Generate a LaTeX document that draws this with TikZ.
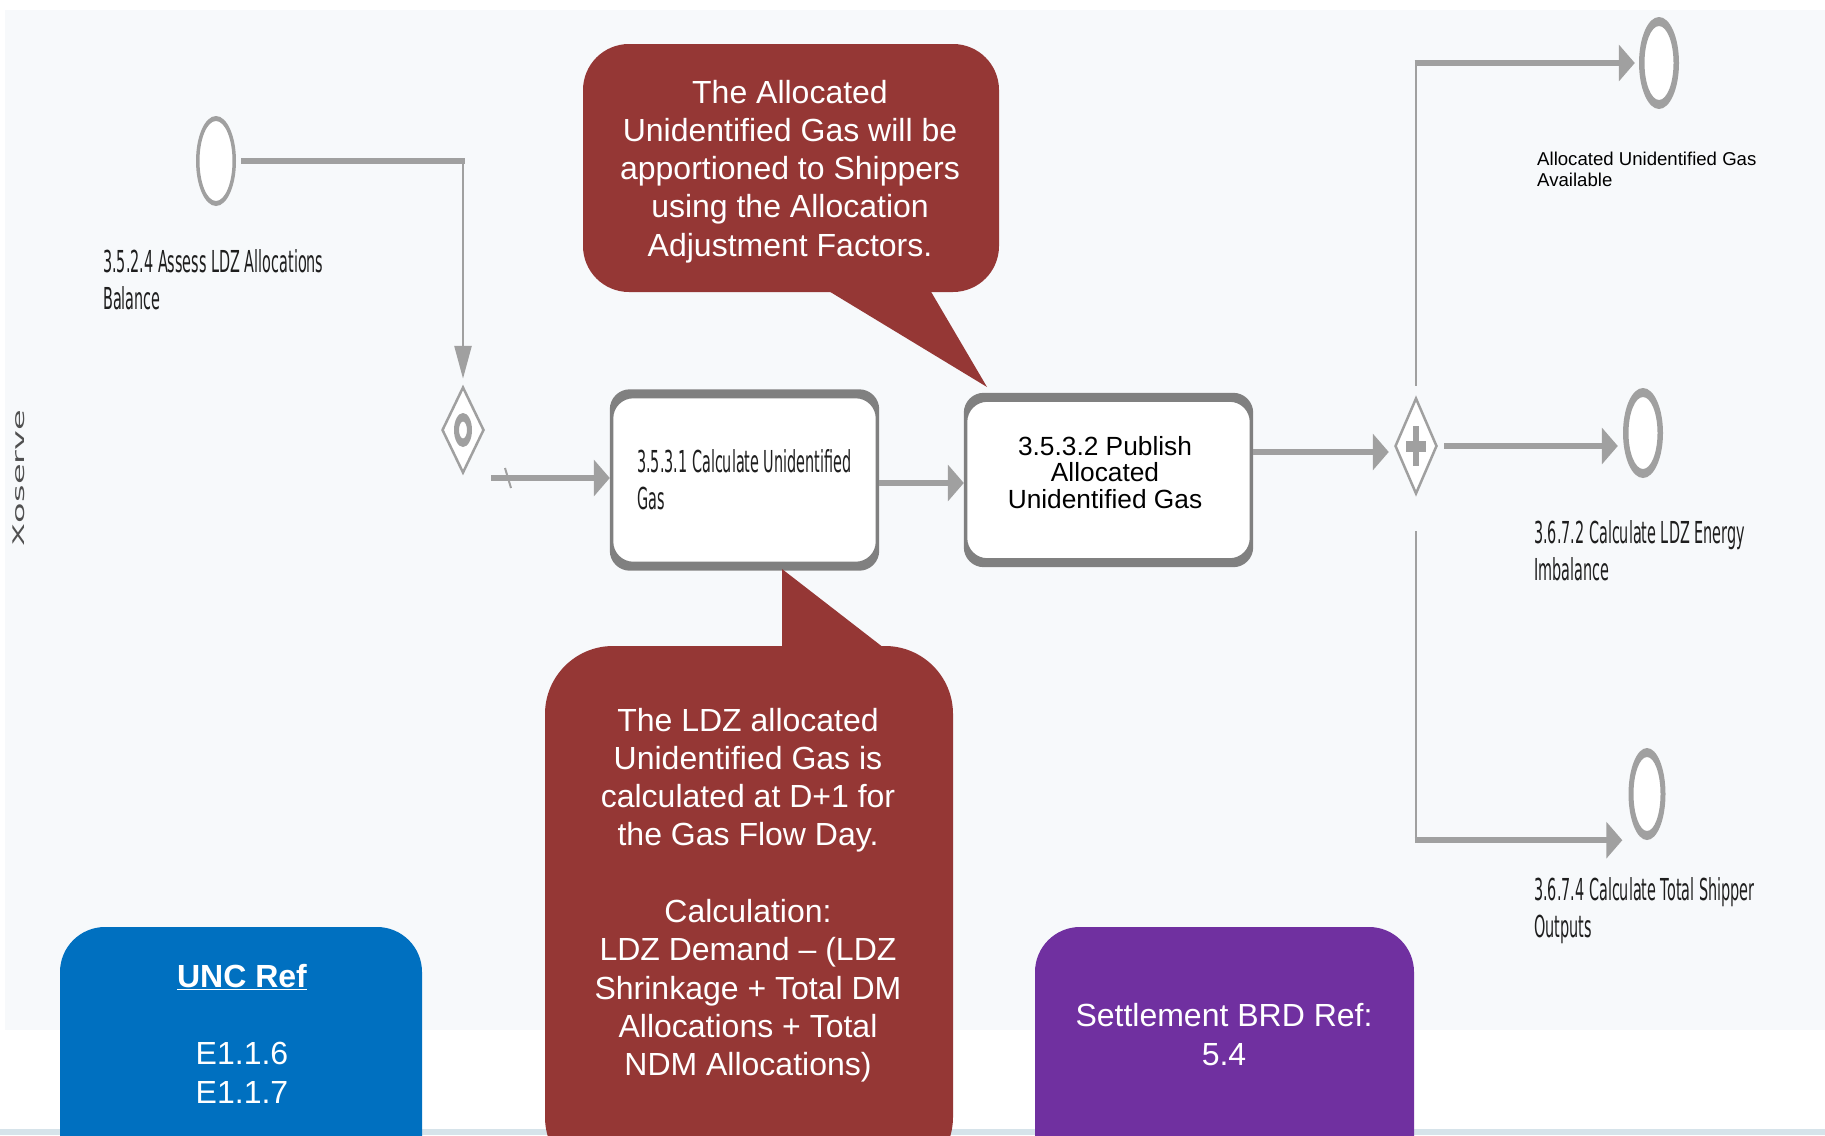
\documentclass[tikz,border=0pt]{standalone}
\usepackage{graphicx}
\usepackage{fontspec}
\setmainfont{Liberation Sans}
\newfontfamily\djv{DejaVu Sans}
\usetikzlibrary{arrows.meta,shapes.geometric,calc}
\definecolor{bg}{HTML}{F7F9FB}
\definecolor{strip}{HTML}{D6E3EA}
\definecolor{calloutred}{HTML}{953735}
\definecolor{uncblue}{HTML}{0070C0}
\definecolor{brdpurple}{HTML}{7030A0}
\definecolor{flowgray}{HTML}{A0A0A0}
\definecolor{taskgray}{HTML}{808080}
\definecolor{labelgray}{HTML}{1E1E1E}
\definecolor{xsgray}{HTML}{505050}
\newcommand\bpmnlabel[1]{\scalebox{1}[2.1]{\djv\fontsize{14.4}{18}\selectfont\begin{tabular}[t]{@{}l@{}}#1\end{tabular}}}
\newcommand\clines[3]{{\fontsize{#1}{#2}\selectfont\begin{tabular}[t]{@{}c@{}}#3\end{tabular}}}
\begin{document}
\begin{tikzpicture}[x=1pt,y=-1pt,
  hl/.style={draw=flowgray,line width=6pt},
  vl/.style={draw=flowgray,line width=2.7pt},
  harr/.style={-{Triangle[length=16pt,width=36pt]}},
  varr/.style={-{Triangle[length=33pt,width=17pt]}},
  evt/.style={ellipse,minimum width=40pt,inner sep=0pt,fill=white},
  gw/.style={diamond,minimum width=42pt,inner sep=0pt,fill=white,draw=flowgray,line width=2.5pt},
  task/.style={rectangle,rounded corners=20pt,fill=white,inner sep=0pt},
  lbl/.style={inner sep=0pt,anchor=base west,text=labelgray},
  wtxt/.style={inner sep=0pt,anchor=base,text=white},
  panel/.style={rectangle,inner sep=0pt},
]
\path[use as bounding box] (0,0) rectangle (1825,1135);
\clip (0,0) rectangle (1825,1135);
\fill[white] (0,0) rectangle (1825,1135);
\fill[bg] (5,10) rectangle (1825,1030);
\fill[strip] (0,1129) rectangle (1825,1135);

% Xoserve lane label
\node[rotate=90,inner sep=0pt,text=xsgray] (lane) at (19,478) {\djv\fontsize{16}{16}\selectfont\scalebox{2.1}[1]{Xoserve}};

% nodes
\node[evt,minimum height=90pt] (s1) at (216,161) {};
\node[gw,minimum height=86pt] (g1) at (463,430) {};
\node[task,minimum width=269pt,minimum height=181pt] (t1) at (744.5,480) {};
\node[task,minimum width=289pt,minimum height=174pt] (t2) at (1108.5,480) {};
\node[gw,minimum height=96pt] (g2) at (1416,446) {};
\node[evt,minimum height=92pt] (e1) at (1659,63) {};
\node[evt,minimum height=90pt] (e2) at (1643,433) {};
\node[evt,minimum height=92pt,minimum width=37pt] (e3) at (1647,794) {};

% event rings
\fill[flowgray,even odd rule] (s1.center) ellipse [x radius=20pt,y radius=45pt] (s1.center) ellipse [x radius=16.5pt,y radius=40pt];
\fill[flowgray,even odd rule] (e1.center) ellipse [x radius=20pt,y radius=46pt] (e1.center) ellipse [x radius=14.5pt,y radius=37pt];
\fill[flowgray,even odd rule] (e2.center) ellipse [x radius=20pt,y radius=45pt] (e2.center) ellipse [x radius=14.5pt,y radius=36pt];
\fill[flowgray,even odd rule] (e3.center) ellipse [x radius=18.5pt,y radius=46pt] (e3.center) ellipse [x radius=13.5pt,y radius=37pt];

% gateway markers
\fill[flowgray,even odd rule] (g1.center) ellipse [x radius=9pt,y radius=17pt] (g1.center) ellipse [x radius=4pt,y radius=8.5pt];
\draw[flowgray,line width=11pt] ([xshift=-10pt]g2.center) -- ([xshift=10pt]g2.center);
\draw[flowgray,line width=6pt] ([yshift=20pt]g2.center) -- ([yshift=-20pt]g2.center);

% task borders
\fill[taskgray,even odd rule,rounded corners=20pt] (t1.south west) rectangle (t1.north east) ([xshift=3.5pt,yshift=-9pt]t1.north west) rectangle ([xshift=-3.5pt,yshift=9pt]t1.south east);
\fill[taskgray,even odd rule,rounded corners=20pt] (t2.south west) rectangle (t2.north east) ([xshift=3.5pt,yshift=-9pt]t2.north west) rectangle ([xshift=-3.5pt,yshift=9pt]t2.south east);

% flows
\draw[hl,shorten <=5pt] (s1.east) -- ($(s1.east -| g1.north)+(1.5,0)$);
\draw[vl,varr,shorten >=7pt] (s1.east -| g1.north) -- (g1.north);
\coordinate (g1out) at ($(g1.center)+(28,48)$);
\draw[hl,harr] (g1out) -- (g1out -| t1.west);
\draw[flowgray,line width=2pt] ($(g1out)+(14,-10)$) -- ($(g1out)+(20,10)$);
\draw[hl,harr] ([yshift=-3pt]t1.east) -- ([yshift=-3pt]t2.west);
\draw[hl,harr,shorten >=5pt] ($(t2.east |- g2.west)+(0,6)$) -- ($(g2.west)+(0,6)$);
\draw[vl,shorten <=11pt] (g2.north) -- ($(g2.north |- e1.west)+(0,-3)$);
\draw[hl,harr,shorten >=4pt] ($(g2.north |- e1.west)+(-1.3,0)$) -- (e1.west);
\draw[hl,harr,shorten <=6pt,shorten >=5pt] (g2.east) -- (g2.east -| e2.west);
\draw[vl,shorten <=36pt] (g2.south) -- ($(g2.south |- e3.south)+(0,3)$);
\draw[hl,harr,shorten >=6pt] ($(g2.south |- e3.south)+(-1.3,0)$) -- (e3.west |- e3.south);

% BPMN labels
\node[lbl] (s1lab) at (103,272) {\bpmnlabel{3.5.2.4 Assess LDZ Allocations\\Balance}};
\node[lbl] (t1lab) at (637,472) {\bpmnlabel{3.5.3.1 Calculate Unidentified\\Gas}};
\node[inner sep=0pt,anchor=base,text=black] (t2lab) at (1105,455) {\clines{26.3}{26}{3.5.3.2 Publish\\Allocated\\Unidentified Gas}};
\node[lbl,text=black] (e1lab) at (1537,165) {{\fontsize{18.6}{21}\selectfont\begin{tabular}[t]{@{}l@{}}Allocated Unidentified Gas\\Available\end{tabular}}};
\node[lbl] (e2lab) at (1534,543) {\bpmnlabel{3.6.7.2 Calculate LDZ Energy\\Imbalance}};
\node[lbl] (e3lab) at (1534,900) {\bpmnlabel{3.6.7.4 Calculate Total Shipper\\Outputs}};

% callout 1
\node[panel,fill=calloutred,rounded corners=46pt,minimum width=416pt,minimum height=248pt] (c1) at (791,168) {};
\fill[calloutred] (827,290) -- (930,290) -- (987,387) -- cycle;
\node[wtxt] (c1txt) at (790,103) {\clines{32}{38.3}{The Allocated\\Unidentified Gas will be\\apportioned to Shippers\\using the Allocation\\Adjustment Factors.}};

% callout 2
\node[panel,fill=calloutred,rounded corners=68pt,minimum width=408pt,minimum height=539pt] (c2) at (749,915.5) {};
\fill[calloutred] (782,569) -- (782,648) -- (884,648) -- cycle;
\node[wtxt] (c2txt) at (748,731) {\clines{32}{38.3}{The LDZ allocated\\Unidentified Gas is\\calculated at D+1 for\\the Gas Flow Day.\\ \\Calculation:\\LDZ Demand -- (LDZ\\Shrinkage + Total DM\\Allocations + Total\\NDM Allocations)}};

% reference boxes
\node[panel,fill=uncblue,rounded corners=45pt,minimum width=362pt,minimum height=258pt] (unc) at (241,1056) {};
\node[wtxt] (unctxt) at (242,987.5) {\clines{32}{38.5}{\textbf{\underline{UNC Ref}}\\ \\E1.1.6\\E1.1.7}};
\node[panel,fill=brdpurple,rounded corners=45pt,minimum width=379pt,minimum height=258pt] (brd) at (1224.5,1056) {};
\node[wtxt] (brdtxt) at (1224,1026.5) {\clines{32}{38.5}{Settlement BRD Ref:\\5.4}};
\end{tikzpicture}
\end{document}
